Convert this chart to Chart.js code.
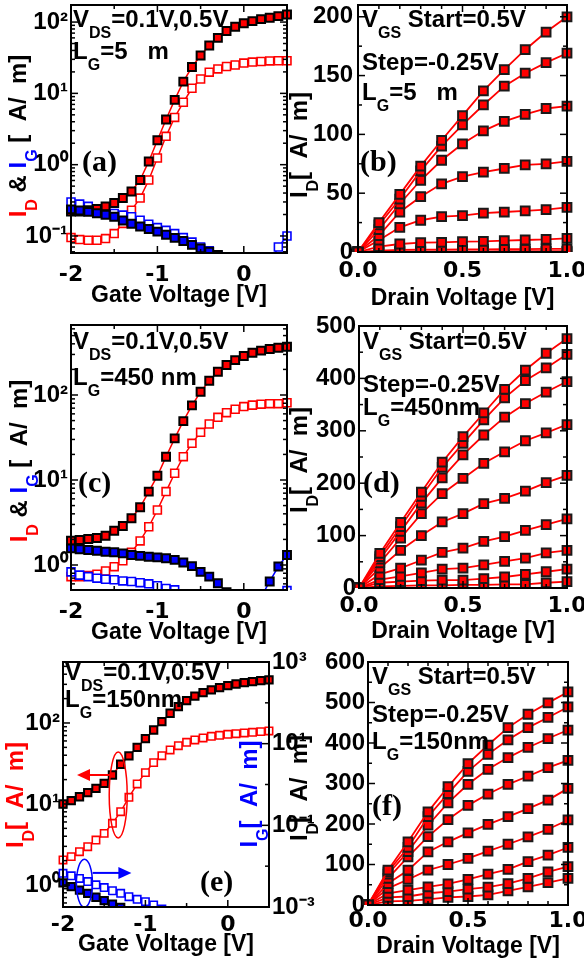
<!DOCTYPE html>
<html><head><meta charset="utf-8">
<script src="https://cdn.jsdelivr.net/npm/chart.js@4.4.1/dist/chart.umd.min.js"></script>
<style>
html,body{margin:0;padding:0;background:#fff}
body{position:relative;width:584px;height:960px;overflow:hidden}
.pane{position:absolute}
.t{position:absolute;white-space:nowrap;font-family:'Liberation Sans',Arial,sans-serif;font-weight:bold;font-size:24px;line-height:24px;color:#000}
.t sub{font-size:16px;vertical-align:baseline;position:relative;top:11px}
.rot{transform:translate(-50%,-50%) rotate(-90deg)}
.pl{font-family:'Liberation Serif','Times New Roman',serif;font-size:30px;line-height:30px}
.r{color:#ff0000}.b{color:#0000ff}
</style></head><body>
<div class="pane" style="left:0;top:0;width:292px;height:315px"><canvas id="ca"></canvas></div>
<div class="pane" style="left:292px;top:0;width:292px;height:315px"><canvas id="cb"></canvas></div>
<div class="pane" style="left:0;top:315px;width:292px;height:335px"><canvas id="cc"></canvas></div>
<div class="pane" style="left:292px;top:315px;width:292px;height:335px"><canvas id="cd"></canvas></div>
<div class="pane" style="left:0;top:650px;width:330px;height:310px"><canvas id="ce"></canvas></div>
<div class="pane" style="left:292px;top:650px;width:292px;height:310px"><canvas id="cf"></canvas></div>

<!-- panel (a) -->
<div class="t" style="left:73px;top:7px">V<sub>DS</sub>=0.1V,0.5V</div>
<div class="t" style="left:73px;top:39px">L<sub>G</sub>=5&nbsp;&nbsp;&nbsp;m</div>
<div class="t pl" style="left:82px;top:146px">(a)</div>
<div class="t rot" style="left:19px;top:136px"><span class="r">I<sub>D</sub></span> &amp; <span class="b">I<sub>G</sub></span> [&nbsp;&nbsp;A/&nbsp;&nbsp;m]</div>
<!-- panel (b) -->
<div class="t" style="left:362px;top:7px">V<sub>GS</sub> Start=0.5V</div>
<div class="t" style="left:362px;top:50px">Step=-0.25V</div>
<div class="t" style="left:362px;top:80px">L<sub>G</sub>=5&nbsp;&nbsp;&nbsp;m</div>
<div class="t pl" style="left:360px;top:146px">(b)</div>
<div class="t rot" style="left:300px;top:145px">I<sub>D</sub>[&nbsp;&nbsp;A/&nbsp;&nbsp;m]</div>
<!-- panel (c) -->
<div class="t" style="left:73px;top:329px">V<sub>DS</sub>=0.1V,0.5V</div>
<div class="t" style="left:73px;top:365px">L<sub>G</sub>=450 nm</div>
<div class="t pl" style="left:78px;top:467px">(c)</div>
<div class="t rot" style="left:20px;top:461px"><span class="r">I<sub>D</sub></span> &amp; <span class="b">I<sub>G</sub></span> [&nbsp;&nbsp;A/&nbsp;&nbsp;m]</div>
<!-- panel (d) -->
<div class="t" style="left:363px;top:329px">V<sub>GS</sub> Start=0.5V</div>
<div class="t" style="left:363px;top:372px">Step=-0.25V</div>
<div class="t" style="left:363px;top:395px">L<sub>G</sub>=450nm</div>
<div class="t pl" style="left:363px;top:467px">(d)</div>
<div class="t rot" style="left:300px;top:460px">I<sub>D</sub>[&nbsp;&nbsp;A/&nbsp;&nbsp;m]</div>
<!-- panel (e) -->
<div class="t" style="left:65px;top:660px">V<sub>DS</sub>=0.1V,0.5V</div>
<div class="t" style="left:65px;top:687px">L<sub>G</sub>=150nm</div>
<div class="t pl" style="left:200px;top:866px">(e)</div>
<div class="t rot r" style="left:16px;top:795px">I<sub>D</sub>[&nbsp;&nbsp;A/&nbsp;&nbsp;m]</div>
<div class="t rot b" style="left:250px;top:794px">I<sub>G</sub>[&nbsp;&nbsp;A/&nbsp;&nbsp;m]</div>
<!-- panel (f) -->
<div class="t" style="left:372px;top:664px">V<sub>GS</sub> Start=0.5V</div>
<div class="t" style="left:372px;top:702px">Step=-0.25V</div>
<div class="t" style="left:372px;top:729px">L<sub>G</sub>=150nm</div>
<div class="t pl" style="left:372px;top:790px">(f)</div>
<div class="t rot" style="left:300px;top:788px">I<sub>D</sub>[&nbsp;&nbsp;A/&nbsp;&nbsp;m]</div>

<script>
// ---------------- data ----------------
const vg = [-2.0,-1.9,-1.8,-1.7,-1.6,-1.5,-1.4,-1.3,-1.2,-1.1,-1.0,-0.9,-0.8,-0.7,-0.6,-0.5,-0.4,-0.3,-0.2,-0.1,0.0,0.1,0.2,0.3,0.4,0.5];
const vd = [0,0.1,0.2,0.3,0.4,0.5,0.6,0.7,0.8,0.9,1.0];

// (a) LG = 5 um : ID / IG at VDS = 0.1 V (open) and 0.5 V (filled)
const aIdOpen = [0.095,0.089,0.087,0.087,0.092,0.108,0.15,0.23,0.34,0.61,1.24,2.5,4.6,7.5,11.8,15.9,19.8,22,23.8,25,26.6,27.5,28,28.5,28.7,28.7];
const aIdFill = [0.22,0.22,0.23,0.24,0.26,0.29,0.34,0.42,0.61,1.11,2.2,4.3,8.1,14.6,23.4,34,47,60,75,86,96,103,110,115,121,128];
const aIgOpen = [0.30,0.28,0.26,0.24,0.226,0.207,0.196,0.186,0.166,0.146,0.131,0.12,0.108,0.095,0.082,0.07,0.062,0.053,0.045,null,null,null,null,0.042,0.07,0.10];
const aIgFill = [0.236,0.228,0.218,0.208,0.198,0.186,0.165,0.148,0.136,0.125,0.115,0.104,0.094,0.085,0.075,0.067,0.060,0.054,0.047,null,null,null,null,null,null,null];

// (c) LG = 450 nm
const cIdOpen = [0.73,0.73,0.75,0.78,0.85,0.955,1.12,1.41,1.92,2.82,4.44,7.3,12,18.8,27,36.4,45.6,54.6,62,68,73,76,78,79,79,81];
const cIdFill = [1.93,1.97,2.02,2.08,2.21,2.53,2.87,3.54,4.77,7.3,11.2,18.8,30.9,49.3,75.5,109,147,188,225,257,287,314,333,348,360,370];
const cIgOpen = [0.83,0.76,0.73,0.70,0.68,0.67,0.65,0.64,0.62,0.60,0.57,0.53,0.51,0.46,null,null,null,null,null,null,null,null,null,null,0.42,0.5];
const cIgFill = [1.57,1.53,1.5,1.47,1.43,1.41,1.37,1.31,1.28,1.25,1.23,1.2,1.15,1.07,0.97,0.83,0.73,0.61,0.48,null,null,null,0.42,0.64,0.96,1.31];

// (e) LG = 150 nm  (IG on right axis)
const eIdOpen = [2.04,2.24,2.58,2.97,3.59,4.34,5.77,8.04,12.1,17.7,24.4,32.4,39.5,46.4,52.5,57.7,61.7,65.3,68.4,70.4,72.5,73.8,75.3,76.7,78.2,79.7];
const eIdFill = [10.0,11.0,12.3,13.8,15.6,18.0,22.8,30.9,39.2,50,64,82,104,132,159,189,215,237,256,273,289,303,315,324,333,340];
const eIgOpen = [0.0067,0.0058,0.0050,0.0042,0.0035,0.0030,0.0025,0.00216,0.00179,0.00154,0.00135,0.00112,0.0009,null,null,null,null,null,null,null,null,null,null,null,null,null];
const eIgFill = [0.0039,0.00315,0.0026,0.00216,0.00173,0.00143,0.00118,0.00097,null,null,null,null,null,null,null,null,null,null,null,null,null,null,null,null,null,null];

// (b) LG = 5 um output curves, VGS = 0.5 V ... -1.5 V (step -0.25 V)
const bId1 = [0,25,49,73,95,116,137,155,172,187,200];
const bId2 = [0,23,45,69,90,108,125,141,152,161,169];
const bId3 = [0,19,41,61,78,92,103,111,117,122,124];
const bId4 = [0,14,34,47,58,64,68,71,74,75,77];
const bId5 = [0,10,21,27,30,31,33,34,35,36,38];
const bId6 = [0,4.5,6.8,7.9,8.2,8.8,9,9.6,10.2,10.7,11.6];
const bId7 = [0,1.2,1.8,2.0,2.1,2.2,2.3,2.4,2.5,2.6,2.7];
const bId8 = [0,0.3,0.5,0.5,0.6,0.6,0.6,0.7,0.7,0.7,0.7];
const bId9 = [0,0.05,0.08,0.1,0.1,0.1,0.1,0.1,0.1,0.1,0.1];

// (d) LG = 450 nm
const dId1 = [0,66,125,183,240,289,334,379,416,448,476];
const dId2 = [0,60,117,175,230,276,321,363,396,420,446];
const dId3 = [0,55,108,162,210,254,292,326,352,374,394];
const dId4 = [0,48,95,142,180,209,238,260,281,296,312];
const dId5 = [0,38,72,100,126,142,161,171,185,201,215];
const dId6 = [0,26,38,53,68,76,89,98,110,121,132];
const dId7 = [0,16,22,29,36,38,44,51,57,67,72];
const dId8 = [0,10,12,14,15,15,18,21,26,31,36];
const dId9 = [0,3,4,5,5,6,6,7,7,10,12];

// (f) LG = 150 nm
const fId1 = [0,86,156,230,292,349,395,438,471,499,526];
const fId2 = [0,82,142,218,275,330,372,408,438,463,489];
const fId3 = [0,76,132,197,252,298,335,364,389,411,432];
const fId4 = [0,66,119,169,211,246,274,298,318,339,357];
const fId5 = [0,53,86,131,156,178,199,218,238,259,288];
const fId6 = [0,41,63,86,100,115,133,150,168,187,210];
const fId7 = [0,29,37,45,52,63,76,88,107,123,142];
const fId8 = [0,19,21,29,33,39,44,53,66,82,95];
const fId9 = [0,9,10,14,19,21,25,35,45,55,66];

// ---------------- styling / helpers ----------------
const RED='#ff0000', BLUE='#0000ff', BLK='#000000', WHITE='#ffffff';
Chart.defaults.color = BLK;
Chart.defaults.animation = false;
const XF = {family:"'DejaVu Sans', sans-serif", size:22, weight:'bold', lineHeight:1};
const YF = {family:"'Liberation Sans', Arial, sans-serif", size:24, weight:'bold', lineHeight:1};
const TF = {family:"'Liberation Sans', Arial, sans-serif", size:23, weight:'bold', lineHeight:1};
const SUP = {'-':'\u207B','0':'\u2070','1':'\u00B9','2':'\u00B2','3':'\u00B3','4':'\u2074','5':'\u2075','6':'\u2076','7':'\u2077','8':'\u2078','9':'\u2079'};
function pow10Label(v, onlyOdd){
  const e = Math.log10(v), r = Math.round(e);
  if (Math.abs(e - r) > 1e-6) return '';
  if (onlyOdd && Math.abs(r) % 2 !== 1) return '';
  return '10' + String(r).split('').map(c => SUP[c]).join('');
}
function zeroPad(s){ s.paddingLeft = s.paddingRight = s.paddingTop = s.paddingBottom = 0; }
function stepTicks(min, max, step){
  const t = []; const n = Math.round((max - min) / step);
  for (let i = 0; i <= n; i++) { const v = +(min + i * step).toFixed(6); if (v <= max + 1e-9) t.push({value:v}); }
  return t;
}
function xGate(h, pad, pb){
  return {type:'linear', min:-2, max:0.5, grid:{display:false, drawTicks:false}, border:{display:false},
    ticks:{padding:pad, autoSkip:false, maxRotation:0, font:XF, color:BLK,
      callback:v => Math.abs(v - Math.round(v)) < 1e-6 ? String(Math.round(v)) : ''},
    afterBuildTicks:s => { s.ticks = stepTicks(-2, 0.5, 0.5); },
    title:{display:true, text:'Gate Voltage [V]', font:TF, color:BLK, padding:{top:0, bottom:pb}},
    afterFit:s => { s.height = h; zeroPad(s); }};
}
function xDrain(h, pad, pb){
  return {type:'linear', min:0, max:1, grid:{display:false, drawTicks:false}, border:{display:false},
    ticks:{padding:pad, autoSkip:false, maxRotation:0, font:XF, color:BLK,
      callback:v => Math.abs(v*2 - Math.round(v*2)) < 1e-6 ? Number(v).toFixed(1) : ''},
    afterBuildTicks:s => { s.ticks = stepTicks(0, 1, 0.1); },
    title:{display:true, text:'Drain Voltage [V]', font:TF, color:BLK, padding:{top:0, bottom:pb}},
    afterFit:s => { s.height = h; zeroPad(s); }};
}
function yLog(min, max, w, pad, onlyOdd, decadesOnly, pos){
  return {type:'logarithmic', position:pos || 'left', min, max, grid:{display:false, drawTicks:false}, border:{display:false},
    ticks:{padding:pad, autoSkip:false, font:YF, color:BLK, callback:v => pow10Label(v, onlyOdd)},
    afterBuildTicks:s => {
      const t = []; const lo = Math.floor(Math.log10(min)), hi = Math.ceil(Math.log10(max));
      for (let e = lo; e <= hi; e++) for (let m = 1; m < 10; m++) {
        if (decadesOnly && m > 1) break;
        const v = m * Math.pow(10, e);
        if (v >= min * 0.9999 && v <= max * 1.0001) t.push({value:v});
      }
      s.ticks = t;
    },
    afterFit:s => { s.width = w; zeroPad(s); }};
}
function yLin(max, step, lab, w, pad){
  return {type:'linear', min:0, max, grid:{display:false, drawTicks:false}, border:{display:false},
    ticks:{padding:pad, autoSkip:false, font:YF, color:BLK,
      callback:v => (Math.abs(v % lab) < 1e-6) ? String(v) : ''},
    afterBuildTicks:s => { s.ticks = stepTicks(0, Math.floor(max / step) * step, step); },
    afterFit:s => { s.width = w; zeroPad(s); }};
}
function series(xs, ys, o){
  return {data: xs.map((x, i) => ({x, y: ys[i]})), borderColor:o.line, borderWidth:o.lw || 1.5,
    pointStyle:'rect', pointRadius:o.r, pointHoverRadius:o.r, pointBackgroundColor:o.fill,
    pointBorderColor:o.edge, pointBorderWidth:o.bw, fill:false, tension:0, spanGaps:false,
    yAxisID:o.axis || 'y', order:o.order || 0, clip:{left:8, right:8, top:0, bottom:0}};
}
const framePlugin = {id:'frame', afterDraw(chart){
  const {ctx, chartArea:a, scales} = chart;
  ctx.save(); ctx.strokeStyle = BLK; ctx.lineWidth = 1.5;
  const L = (x1,y1,x2,y2) => { ctx.beginPath(); ctx.moveTo(x1,y1); ctx.lineTo(x2,y2); ctx.stroke(); };
  const X = scales.x, Y = scales.y, Y2 = scales.y2;
  X.ticks.forEach(t => { const p = X.getPixelForValue(t.value); const n = t.label ? 7 : 4; L(p,a.bottom,p,a.bottom-n); L(p,a.top,p,a.top+n); });
  Y.ticks.forEach(t => { const p = Y.getPixelForValue(t.value); const n = t.label ? 7 : 4; L(a.left,p,a.left+n,p); if (!Y2) L(a.right,p,a.right-n,p); });
  if (Y2) Y2.ticks.forEach(t => { const p = Y2.getPixelForValue(t.value); const n = t.label ? 7 : 4; L(a.right,p,a.right-n,p); });
  ctx.lineWidth = 2; ctx.strokeRect(a.left, a.top, a.right - a.left, a.bottom - a.top);
  ctx.restore();
}};
function mk(id, datasets, scales, padding, extra){
  return new Chart(document.getElementById(id), {
    type:'line', data:{datasets},
    options:{responsive:true, maintainAspectRatio:false, animation:false, events:[],
      layout:{padding, autoPadding:false},
      plugins:{legend:{display:false}, tooltip:{enabled:false}},
      scales},
    plugins:[framePlugin].concat(extra || [])
  });
}

// ---------------- (a) ----------------
mk('ca', [
  series(vg, aIdOpen, {line:RED, fill:WHITE, edge:RED, bw:1.6, r:5.6, order:4}),
  series(vg, aIgOpen, {line:BLUE, fill:WHITE, edge:BLUE, bw:1.6, r:5.6, order:3}),
  series(vg, aIdFill, {line:RED, fill:RED, edge:BLK, bw:2, r:5.6, order:2}),
  series(vg, aIgFill, {line:BLUE, fill:BLUE, edge:BLK, bw:2, r:5.6, order:1})
], {x:xGate(62, 11, 7.5), y:yLog(0.0577, 173.5, 71, 3)}, {left:0, top:5, right:5, bottom:0});

// ---------------- (c) ----------------
mk('cc', [
  series(vg, cIdOpen, {line:RED, fill:WHITE, edge:RED, bw:1.6, r:5.6, order:4}),
  series(vg, cIgOpen, {line:BLUE, fill:WHITE, edge:BLUE, bw:1.6, r:5.6, order:3}),
  series(vg, cIdFill, {line:RED, fill:RED, edge:BLK, bw:2, r:5.6, order:2}),
  series(vg, cIgFill, {line:BLUE, fill:BLUE, edge:BLK, bw:2, r:5.6, order:1})
], {x:xGate(60, 11, 5.5), y:yLog(0.508, 666, 71, 3)}, {left:0, top:10, right:5, bottom:0});

// ---------------- (e) ----------------
const eMarks = {id:'emarks', afterDatasetsDraw(chart){
  const {ctx} = chart; const X = chart.scales.x, Y = chart.scales.y;
  ctx.save(); ctx.lineWidth = 1.5;
  const ell = (xv, yv, rx, ry, c) => { ctx.strokeStyle = c; ctx.beginPath(); ctx.ellipse(X.getPixelForValue(xv), Y.getPixelForValue(yv), rx, ry, 0, 0, Math.PI*2); ctx.stroke(); };
  const arrow = (x1v, x2v, yv, c) => {
    const x1 = X.getPixelForValue(x1v), x2 = X.getPixelForValue(x2v), y = Y.getPixelForValue(yv);
    const d = Math.sign(x2 - x1);
    ctx.strokeStyle = c; ctx.fillStyle = c; ctx.lineWidth = 2;
    ctx.beginPath(); ctx.moveTo(x1, y); ctx.lineTo(x2 - d*10, y); ctx.stroke();
    ctx.beginPath(); ctx.moveTo(x2, y); ctx.lineTo(x2 - d*13, y - 6); ctx.lineTo(x2 - d*13, y + 6); ctx.closePath(); ctx.fill();
  };
  ell(-1.33, 12.9, 9, 43, RED);
  ell(-1.74, 1.05, 8, 24, BLUE);
  arrow(-1.40, -1.83, 22.8, RED);
  arrow(-1.64, -1.17, 1.41, BLUE);
  ctx.restore();
}};
mk('ce', [
  series(vg, eIdOpen, {line:RED, fill:WHITE, edge:RED, bw:1.6, r:5.2, order:4}),
  series(vg, eIgOpen, {line:BLUE, fill:WHITE, edge:BLUE, bw:1.6, r:5.2, order:3, axis:'y2'}),
  series(vg, eIdFill, {line:RED, fill:RED, edge:BLK, bw:2, r:5.2, order:2}),
  series(vg, eIgFill, {line:BLUE, fill:BLUE, edge:BLK, bw:2, r:5.2, order:1, axis:'y2'})
], {x:xGate(53, 7, 3.5), y:yLog(0.535, 566, 63, 3), y2:yLog(0.001, 1000, 61, 3, true, true, 'right')},
   {left:0, top:12, right:0, bottom:0}, [eMarks]);

// ---------------- (b) (d) (f) ----------------
function outSets(curves, r){
  return curves.map((c, i) => series(vd, c, {line:RED, fill:RED, edge:'#1a1a1a', bw:2, r, lw:1.8, order:i}));
}
mk('cb', outSets([bId1,bId2,bId3,bId4,bId5,bId6,bId7,bId8,bId9], 6.2),
   {x:xDrain(63, 8, 4.5), y:yLin(210, 25, 50, 66, 5)}, {left:0, top:5, right:17, bottom:0});
mk('cd', outSets([dId1,dId2,dId3,dId4,dId5,dId6,dId7,dId8,dId9], 6.2),
   {x:xDrain(62, 7, 6.5), y:yLin(500, 50, 100, 67, 3)}, {left:0, top:11, right:17, bottom:0});
mk('cf', outSets([fId1,fId2,fId3,fId4,fId5,fId6,fId7,fId8,fId9], 6.2),
   {x:xDrain(55, 5, 1.5), y:yLin(600, 50, 100, 76, 3)}, {left:0, top:12, right:16, bottom:0});
</script>
</body></html>
